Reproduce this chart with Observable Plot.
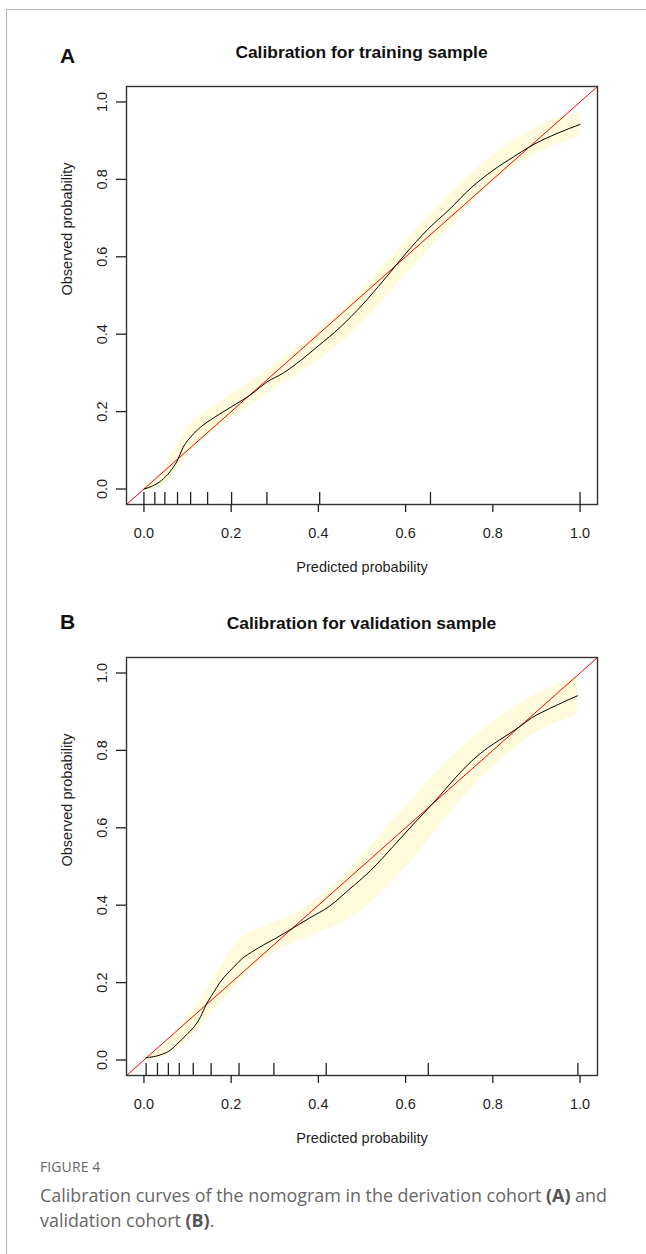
<!DOCTYPE html>
<html><head><meta charset="utf-8">
<script src="https://cdn.jsdelivr.net/npm/d3@7"></script>
<script src="https://cdn.jsdelivr.net/npm/@observablehq/plot@0.6"></script>
<style>
body{margin:0;background:#fff;width:646px;height:1254px;position:relative;overflow:hidden;font-family:"Liberation Sans",Arial,sans-serif;}
.ft{position:absolute;left:6px;top:9px;width:640px;height:0;border-top:1.5px solid #b5b5b5;}
.fl{position:absolute;left:6px;top:9px;width:0;height:1245px;border-left:1.5px solid #b5b5b5;}
.letter{position:absolute;left:60px;font:bold 21px "Liberation Sans",Arial,sans-serif;color:#111;line-height:1;margin:0;}
.title{position:absolute;left:126px;width:471px;text-align:center;font:bold 17.4px "Liberation Sans",Arial,sans-serif;color:#111;line-height:1;margin:0;}
.chart{position:absolute;left:0;}
.figlab{position:absolute;left:40px;top:1157px;font:500 14px "Open Sans",sans-serif;color:#666;line-height:20px;letter-spacing:0.1px;}
.cap{position:absolute;left:40px;top:1183px;font:17.9px "Open Sans",sans-serif;color:#666;line-height:25px;white-space:nowrap;}
.cap b{font-weight:700;color:#555;}
</style>
</head><body>
<div class="ft"></div><div class="fl"></div>
<div class="letter" style="top:45px">A</div>
<div class="title" style="top:43.5px">Calibration for training sample</div>
<div class="chart" id="chartA" style="top:70px"></div>
<div class="letter" style="top:611px">B</div>
<div class="title" style="top:614.5px">Calibration for validation sample</div>
<div class="chart" id="chartB" style="top:641px"></div>
<div class="figlab">FIGURE 4</div>
<div class="cap">Calibration curves of the nomogram in the derivation cohort <b>(A)</b> and<br>validation cohort <b>(B)</b>.</div>
<script>
// ---- shared axis content ----
const axisDomain = [-0.04, 1.04];
const xTicks = [0, 0.2, 0.4, 0.6, 0.8, 1.0];
const yTicks = [0, 0.2, 0.4, 0.6, 0.8, 1.0];
const xLabel = "Predicted probability";
const yLabel = "Observed probability";

// ---- Panel A: training sample ----
const aCurveX = [0.00,0.02,0.04,0.06,0.075,0.09,0.11,0.13,0.16,0.20,0.25,0.28,0.32,0.36,0.40,0.45,0.50,0.55,0.60,0.65,0.70,0.75,0.80,0.85,0.89,0.95,1.00];
const aCurveY = [0.000,0.008,0.022,0.045,0.070,0.108,0.138,0.160,0.184,0.212,0.248,0.275,0.300,0.333,0.370,0.418,0.475,0.540,0.608,0.670,0.722,0.778,0.823,0.860,0.888,0.920,0.942];
const aBandX  = [0.00,0.04,0.07,0.10,0.15,0.20,0.25,0.30,0.40,0.50,0.55,0.60,0.70,0.80,0.90,1.00];
const aBandLo = [-0.004,0.006,0.040,0.088,0.140,0.180,0.220,0.260,0.332,0.428,0.488,0.552,0.675,0.792,0.866,0.910];
const aBandHi = [0.010,0.040,0.100,0.158,0.205,0.245,0.282,0.322,0.408,0.515,0.578,0.640,0.760,0.862,0.935,0.972];
const aRug = [0.000,0.025,0.048,0.077,0.107,0.146,0.201,0.282,0.403,0.657,1.000];

// ---- Panel B: validation sample ----
const bCurveX = [0.005,0.037,0.06,0.075,0.10,0.113,0.13,0.143,0.16,0.174,0.19,0.204,0.225,0.25,0.275,0.303,0.333,0.355,0.38,0.425,0.47,0.52,0.57,0.62,0.65,0.676,0.71,0.752,0.79,0.828,0.86,0.889,0.93,0.96,0.994];
const bCurveY = [0.006,0.013,0.025,0.040,0.068,0.083,0.112,0.144,0.175,0.200,0.222,0.238,0.262,0.281,0.298,0.315,0.335,0.350,0.367,0.397,0.440,0.490,0.550,0.612,0.648,0.680,0.724,0.773,0.808,0.836,0.860,0.884,0.908,0.924,0.941];
const bBandX  = [0.005,0.04,0.075,0.10,0.125,0.157,0.19,0.21,0.23,0.26,0.30,0.35,0.40,0.45,0.50,0.55,0.60,0.676,0.75,0.828,0.90,0.994];
const bBandLo = [0.000,0.005,0.028,0.050,0.078,0.122,0.165,0.190,0.212,0.244,0.278,0.304,0.328,0.352,0.388,0.436,0.496,0.600,0.700,0.785,0.845,0.890];
const bBandHi = [0.012,0.030,0.075,0.110,0.150,0.205,0.268,0.300,0.322,0.338,0.355,0.380,0.420,0.468,0.528,0.592,0.655,0.748,0.828,0.895,0.945,0.990];
const bRug = [0.005,0.031,0.056,0.081,0.113,0.154,0.218,0.298,0.418,0.652,0.995];

const bandColor = "#fdfbdb";

function calib(curveX, curveY, bandX, bandLo, bandHi, rug) {
  const curve = curveX.map((x, i) => ({x, y: curveY[i]}));
  const band = bandX.map((x, i) => ({x, lo: bandLo[i], hi: bandHi[i]}));
  return Plot.plot({
    width: 646, height: 510,
    marginTop: 16, marginBottom: 76, marginLeft: 126, marginRight: 49,
    style: {fontFamily: '"Liberation Sans", Arial, sans-serif', fontSize: "14.5px", color: "#1e1e1e", background: "transparent", overflow: "visible"},
    x: {domain: axisDomain, axis: null},
    y: {domain: axisDomain, axis: null},
    marks: [
      Plot.areaY(band, {x: "x", y1: "lo", y2: "hi", fill: bandColor, curve: "monotone-x"}),
      Plot.line(axisDomain, {x: d => d, y: d => d, stroke: "#ff0000", strokeWidth: 1}),
      Plot.line(curve, {x: "x", y: "y", stroke: "#000", strokeWidth: 1, curve: "monotone-x"}),
      Plot.tickX(rug, {x: d => d, stroke: "#1e1e1e", strokeWidth: 1.3, insetTop: 406}),
      Plot.frame({stroke: "#333", strokeWidth: 1.4}),
      Plot.axisX({ticks: xTicks, tickSize: 8, tickPadding: 15, tickFormat: d3.format(".1f"), label: null, strokeWidth: 1.3}),
      Plot.axisY({ticks: yTicks, tickSize: 10, tickFormat: () => "", label: null, strokeWidth: 1.3}),
      Plot.text(yTicks, {y: d => d, text: d3.format(".1f"), frameAnchor: "left", rotate: -90, dx: -24, lineAnchor: "middle", textAnchor: "middle"}),
      Plot.text([yLabel], {frameAnchor: "left", rotate: -90, dx: -59, text: d => d, lineAnchor: "middle"}),
      Plot.text([xLabel], {frameAnchor: "bottom", dy: 63, text: d => d, lineAnchor: "middle"})
    ]
  });
}

document.getElementById("chartA").append(calib(aCurveX, aCurveY, aBandX, aBandLo, aBandHi, aRug));
document.getElementById("chartB").append(calib(bCurveX, bCurveY, bBandX, bBandLo, bBandHi, bRug));
</script>
</body></html>
